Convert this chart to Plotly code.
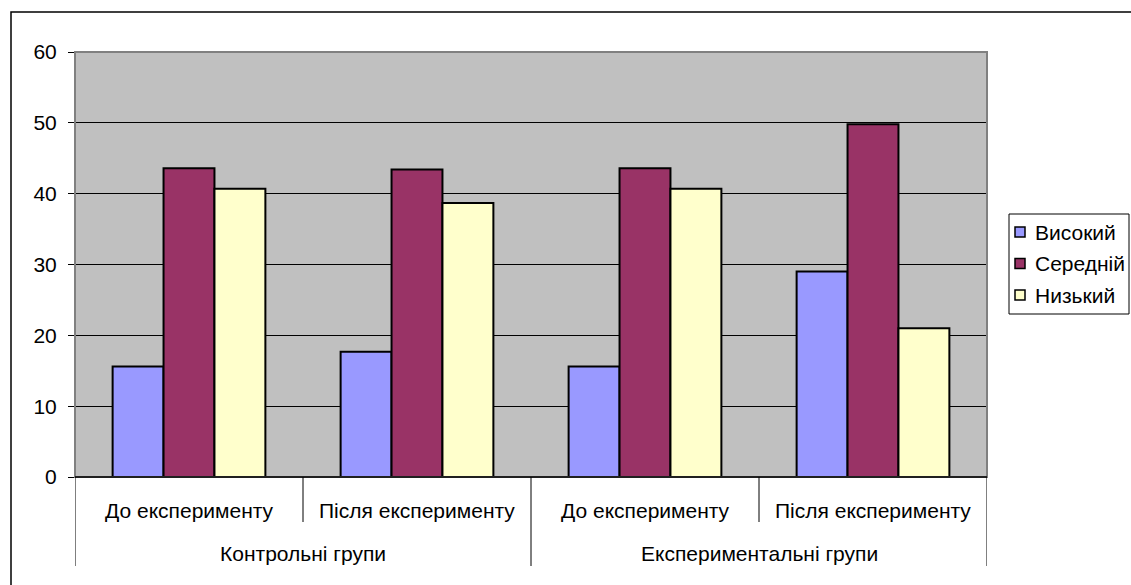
import numpy as np
import plotly.graph_objects as go

# Category structure: two groups, each measured before/after
group_labels = ["Контрольні групи", "Експериментальні групи"]
phase_labels = ["До експерименту", "Після експерименту",
                "До експерименту", "Після експерименту"]
phase_group = [0, 0, 1, 1]

# Series (level shares, %)
series_names = ["Високий", "Середній", "Низький"]
high = [15.6, 17.7, 15.6, 29.0]
medium = [43.6, 43.4, 43.6, 49.8]
low = [40.7, 38.7, 40.7, 21.0]
series_values = [high, medium, low]
series_colors = ["#9999FF", "#993366", "#FFFFCC"]

FONT = "Liberation Sans, Arial, sans-serif"
FS = 21
x = np.arange(len(phase_labels))

fig = go.Figure()
for name, vals, col in zip(series_names, series_values, series_colors):
    fig.add_trace(go.Bar(
        x=x, y=vals, name=name, showlegend=False,
        marker=dict(color=col, line=dict(color="black", width=2)),
    ))

# Plot-area geometry (pixels) used for the paper-coordinate decorations
W, H = 1131, 585
L, R, T, B = 75, 144, 52, 108
ph = H - T - B
pw = W - L - R


def py(pix):
    return (H - B - pix) / ph


def px(pix):
    return (pix - L) / pw


shapes = []
# outer chart frame
shapes.append(dict(type="rect", xref="paper", yref="paper",
                   x0=px(11), x1=px(W + 5), y0=py(H + 5), y1=py(12),
                   line=dict(color="black", width=1.5), layer="below"))
# plot-area frame
shapes.append(dict(type="rect", xref="paper", yref="paper",
                   x0=0, x1=1, y0=0, y1=1,
                   line=dict(color="#808080", width=2), layer="above"))
# bottom axis line
shapes.append(dict(type="line", xref="paper", yref="paper",
                   x0=0, x1=1, y0=0, y1=0,
                   line=dict(color="black", width=1.5), layer="above"))

# category dividers: long between groups, short between phases inside a group
for i in range(len(phase_labels) + 1):
    at_group_edge = (i == 0 or i == len(phase_labels)
                     or phase_group[i] != phase_group[i - 1])
    shapes.append(dict(type="line", xref="x", yref="paper",
                       x0=i - 0.5, x1=i - 0.5,
                       y0=0, y1=py(566 if at_group_edge else 522),
                       line=dict(color="black", width=1)))

annotations = []
for i, lab in enumerate(phase_labels):
    annotations.append(dict(x=i, y=py(510), xref="x", yref="paper",
                            text=lab, showarrow=False,
                            font=dict(family=FONT, size=FS, color="black"),
                            xanchor="center", yanchor="middle"))
for g, lab in enumerate(group_labels):
    idx = [i for i, pg in enumerate(phase_group) if pg == g]
    annotations.append(dict(x=float(np.mean(idx)), y=py(553), xref="x",
                            yref="paper", text=lab, showarrow=False,
                            font=dict(family=FONT, size=FS, color="black"),
                            xanchor="center", yanchor="middle"))

# legend box with one swatch + name per series
shapes.append(dict(type="rect", xref="paper", yref="paper",
                   x0=px(1009), x1=px(1129), y0=py(314), y1=py(214),
                   fillcolor="white", line=dict(color="black", width=1)))
row_y = [232, 263.5, 295]
for name, col, ry in zip(series_names, series_colors, row_y):
    shapes.append(dict(type="rect", xref="paper", yref="paper",
                       x0=px(1015), x1=px(1025),
                       y0=py(ry + 5), y1=py(ry - 5),
                       fillcolor=col, line=dict(color="black", width=1.5)))
    annotations.append(dict(x=px(1033), y=py(ry), xref="paper", yref="paper",
                            text=name, showarrow=False,
                            font=dict(family=FONT, size=FS, color="black"),
                            xanchor="left", yanchor="middle"))

fig.update_layout(
    width=W, height=H,
    margin=dict(l=L, r=R, t=T, b=B, autoexpand=False),
    paper_bgcolor="white",
    plot_bgcolor="#C0C0C0",
    barmode="group",
    bargap=0.33,
    bargroupgap=0,
    font=dict(family=FONT, size=FS, color="black"),
    showlegend=False,
    xaxis=dict(range=[-0.5, len(phase_labels) - 0.5], showticklabels=False,
               showgrid=False, zeroline=False, ticks="", showline=False,
               fixedrange=True),
    yaxis=dict(range=[0, 60], dtick=10, showgrid=True, gridcolor="black",
               gridwidth=1, zeroline=False, showline=False,
               ticks="outside", ticklen=6, tickcolor="black", tickwidth=1,
               ticklabelstandoff=7,
               tickfont=dict(family=FONT, size=FS, color="black"),
               fixedrange=True),
    shapes=shapes,
    annotations=annotations,
)

fig.write_html("out.html")
